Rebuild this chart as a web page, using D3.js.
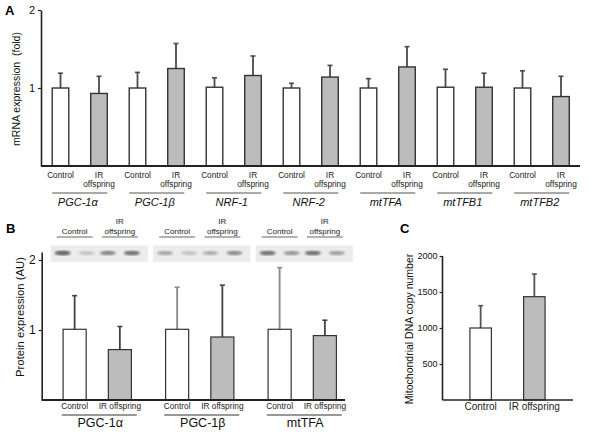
<!DOCTYPE html>
<html><head><meta charset="utf-8">
<script src="https://cdn.jsdelivr.net/npm/d3@7"></script>
<style>
body{margin:0;background:#fff;}
svg{display:block;font-family:"Liberation Sans",Arial,Helvetica,sans-serif;}
</style></head>
<body><svg id="c" width="596" height="436"></svg>
<script>
// ---------- Panel A data ----------
const aGenes = ["PGC-1α","PGC-1β","NRF-1","NRF-2","mtTFA","mtTFB1","mtTFB2"];
const aGroups = ["Control","IR offspring"];
const aControl = [1.00,1.00,1.01,1.00,1.00,1.01,1.00];
const aControlErr = [0.19,0.20,0.12,0.06,0.12,0.23,0.22];
const aIR = [0.93,1.25,1.16,1.14,1.27,1.01,0.89];
const aIRErr = [0.22,0.32,0.25,0.15,0.26,0.18,0.26];
const aTicks = [1,2];
// ---------- Panel B data ----------
const bProteins = ["PGC-1α","PGC-1β","mtTFA"];
const bControl = [1.01,1.01,1.01];
const bControlErr = [0.48,0.60,0.88];
const bIR = [0.72,0.90,0.92];
const bIRErr = [0.33,0.74,0.22];
const bTicks = [1,2];
// blot band intensities (4 lanes per protein: 2 control, 2 IR)
const bBands = [[0.9,0.35,0.75,0.85],[0.55,0.35,0.5,0.7],[0.85,0.65,0.85,0.6]];
// ---------- Panel C data ----------
const cGroups = ["Control","IR offspring"];
const cValues = [1000,1435];
const cErr = [310,315];
const cTicks = [500,1000,1500,2000];

const svg = d3.select("#c");
const FILL = ["#ffffff","#bcbcbc"];
const STROKE = "#333";
const ERR = "#4a4a4a";
const AX = "#222";

function errBar(g, x, y0, y1, color, cap){
  g.append("line").attr("x1",x).attr("x2",x).attr("y1",y0).attr("y2",y1)
    .attr("stroke",color).attr("stroke-width",1.8);
  g.append("line").attr("x1",x-cap).attr("x2",x+cap).attr("y1",y1).attr("y2",y1)
    .attr("stroke",color).attr("stroke-width",1.6);
}
function styleAxis(g, fs){
  g.select(".domain").attr("stroke",AX).attr("stroke-width",1.6);
  g.selectAll(".tick line").attr("stroke",AX).attr("stroke-width",1.2);
  g.selectAll(".tick text").attr("fill","#111").style("font-size",fs+"px")
    .style("font-family","'Liberation Sans',Arial,sans-serif");
}

// ================= Panel A =================
(function(){
  const g = svg.append("g");
  const y = d3.scaleLinear().domain([0,2]).range([166,10]);
  const x0 = d3.scaleBand().domain(aGenes).range([41.25,580.25]);
  const x1 = d3.scalePoint().domain(aGroups).range([0,x0.bandwidth()]).padding(0.5);
  const bw = x1.step()*0.43;
  const ax = g.append("g").attr("transform","translate(41,0)")
    .call(d3.axisLeft(y).tickValues(aTicks).tickSize(3).tickSizeOuter(0).tickPadding(3).tickFormat(d3.format("d")));
  styleAxis(ax, 11);
  aGenes.forEach((gene,i)=>{
    const vals=[aControl[i],aIR[i]], errs=[aControlErr[i],aIRErr[i]];
    aGroups.forEach((grp,j)=>{
      const cx = x0(gene)+x1(grp);
      errBar(g, cx, y(vals[j]), y(vals[j]+errs[j]), ERR, 2.5);
      g.append("rect").attr("x",cx-bw/2).attr("y",y(vals[j])).attr("width",bw)
        .attr("height",y(0)-y(vals[j])).attr("fill",FILL[j]).attr("stroke",STROKE).attr("stroke-width",1.4);
    });
    const cc = x0(gene)+x1("Control"), ci = x0(gene)+x1("IR offspring");
    const fs = "8.3px";
    g.append("text").attr("x",cc).attr("y",177.5).attr("text-anchor","middle").style("font-size",fs).attr("fill","#222").text("Control");
    g.append("text").attr("x",ci).attr("y",177.5).attr("text-anchor","middle").style("font-size",fs).attr("fill","#222").text("IR");
    g.append("text").attr("x",ci).attr("y",187).attr("text-anchor","middle").style("font-size",fs).attr("fill","#222").text("offspring");
    g.append("line").attr("x1",cc-bw/2).attr("x2",ci+bw/2).attr("y1",193).attr("y2",193).attr("stroke","#555").attr("stroke-width",1.2);
    g.append("text").attr("x",(cc+ci)/2-2).attr("y",206).attr("text-anchor","middle").style("font-size","11px")
      .style("font-style","italic").attr("fill","#111").text(gene);
  });
  g.append("line").attr("x1",41).attr("x2",580).attr("y1",y(0)).attr("y2",y(0)).attr("stroke",AX).attr("stroke-width",2);
  g.append("text").attr("transform","translate(20,89) rotate(-90)").attr("text-anchor","middle")
    .style("font-size","10.5px").attr("fill","#111").attr("xml:space","preserve").text("mRNA expression  (fold)");
  g.append("text").attr("x",5).attr("y",15).style("font-size","13px").style("font-weight","bold").text("A");
})();

// ================= Panel B =================
(function(){
  const g = svg.append("g");
  const y = d3.scaleLinear().domain([0,2.114]).range([400,252]);
  const x0 = d3.scaleBand().domain(bProteins).range([46,353.5]);
  const x1 = d3.scalePoint().domain(aGroups).range([0,x0.bandwidth()]).padding(0.633);
  const bw = x1.step()*0.51;
  const ax = g.append("g").attr("transform","translate(41.7,0)")
    .call(d3.axisLeft(y).tickValues(bTicks).tickSize(3).tickSizeOuter(0).tickPadding(3).tickFormat(d3.format("d")));
  styleAxis(ax, 12);
  const defs = svg.append("defs");
  defs.append("filter").attr("id","blur").append("feGaussianBlur").attr("stdDeviation",1.2);
  const errCols = [["#444","#444"],["#888","#444"],["#888","#444"]];
  bProteins.forEach((p,i)=>{
    const vals=[bControl[i],bIR[i]], errs=[bControlErr[i],bIRErr[i]];
    const cc = x0(p)+x1("Control"), ci = x0(p)+x1("IR offspring");
    aGroups.forEach((grp,j)=>{
      const cx = x0(p)+x1(grp);
      errBar(g, cx, y(vals[j]), y(vals[j]+errs[j]), errCols[i][j], 2.5);
      g.append("rect").attr("x",cx-bw/2).attr("y",y(vals[j])).attr("width",bw)
        .attr("height",y(0)-y(vals[j])).attr("fill",FILL[j]).attr("stroke",STROKE).attr("stroke-width",1.2);
    });
    const fs = "8.3px";
    g.append("text").attr("x",cc).attr("y",409).attr("text-anchor","middle").style("font-size",fs).attr("fill","#222").text("Control");
    g.append("text").attr("x",ci).attr("y",409).attr("text-anchor","middle").style("font-size",fs).attr("fill","#222").text("IR offspring");
    const gc=(cc+ci)/2;
    g.append("line").attr("x1",gc+2-37.5).attr("x2",gc+2+37.5).attr("y1",415).attr("y2",415).attr("stroke","#333").attr("stroke-width",1);
    g.append("text").attr("x",gc+3).attr("y",427).attr("text-anchor","middle").style("font-size","12.5px").attr("fill","#111").text(p);
    // blot
    const bx0 = cc-24, bx1 = ci+28;
    g.append("rect").attr("x",bx0).attr("y",245.5).attr("width",bx1-bx0).attr("height",16.5).attr("fill","#ececec");
    [cc-12,cc+12,ci-12,ci+12].forEach((lx,k)=>{
      const v=bBands[i][k];
      g.append("ellipse").attr("cx",lx).attr("cy",253).attr("rx",8).attr("ry",1.3+v*1.2)
        .attr("fill",d3.interpolateGreys(0.3+v*0.5)).attr("opacity",0.4+v*0.5).attr("filter","url(#blur)");
    });
    // blot labels
    const lf = "8px";
    g.append("text").attr("x",cc).attr("y",234).attr("text-anchor","middle").style("font-size",lf).attr("fill","#222").text("Control");
    g.append("text").attr("x",ci).attr("y",224).attr("text-anchor","middle").style("font-size",lf).attr("fill","#222").text("IR");
    g.append("text").attr("x",ci).attr("y",234).attr("text-anchor","middle").style("font-size",lf).attr("fill","#222").text("offspring");
    [cc,ci].forEach(lx=>g.append("line").attr("x1",lx-18).attr("x2",lx+18).attr("y1",237).attr("y2",237).attr("stroke","#666").attr("stroke-width",1));
  });
  g.append("line").attr("x1",41.7).attr("x2",345).attr("y1",y(0)).attr("y2",y(0)).attr("stroke",AX).attr("stroke-width",2);
  g.append("text").attr("transform","translate(24,317) rotate(-90)").attr("text-anchor","middle")
    .style("font-size","11.3px").attr("fill","#111").text("Protein expression (AU)");
  g.append("text").attr("x",6).attr("y",233).style("font-size","13px").style("font-weight","bold").text("B");
})();

// ================= Panel C =================
(function(){
  const g = svg.append("g");
  const y = d3.scaleLinear().domain([0,2000]).range([400,256]);
  const x = d3.scalePoint().domain(cGroups).range([442,573]).padding(0.72);
  const bw = x.step()*0.4;
  const ax = g.append("g").attr("transform","translate(442.5,0)")
    .call(d3.axisLeft(y).tickValues(cTicks).tickSize(3).tickSizeOuter(0).tickPadding(2).tickFormat(d3.format("d")));
  styleAxis(ax, 9);
  ax.select(".domain").attr("d","M0,256V400");
  cGroups.forEach((grp,j)=>{
    const cx = x(grp);
    errBar(g, cx, y(cValues[j]), y(cValues[j]+cErr[j]), "#555", 2.5);
    g.append("rect").attr("x",cx-bw/2).attr("y",y(cValues[j])).attr("width",bw)
      .attr("height",y(0)-y(cValues[j])).attr("fill",FILL[j]).attr("stroke",STROKE).attr("stroke-width",1.2);
    g.append("text").attr("x",cx).attr("y",410).attr("text-anchor","middle").style("font-size","10px").attr("fill","#222").text(grp);
  });
  g.append("line").attr("x1",442.5).attr("x2",573).attr("y1",y(0)).attr("y2",y(0)).attr("stroke",AX).attr("stroke-width",1.6);
  g.append("text").attr("transform","translate(413,329) rotate(-90)").attr("text-anchor","middle")
    .style("font-size","10.5px").attr("fill","#111").text("Mitochondrial DNA copy number");
  g.append("text").attr("x",400).attr("y",233).style("font-size","13px").style("font-weight","bold").text("C");
})();
</script></body></html>
